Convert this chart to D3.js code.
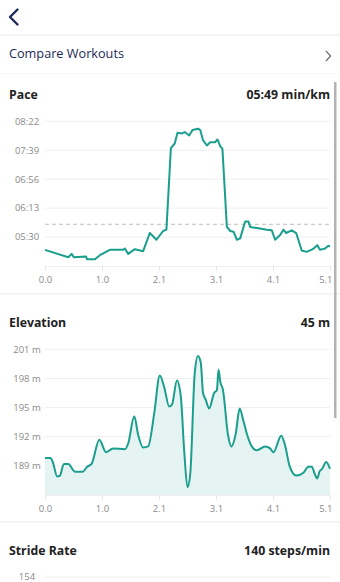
<!DOCTYPE html>
<html><head><meta charset="utf-8">
<script src="https://cdn.jsdelivr.net/npm/d3@7"></script>
<style>
html,body{margin:0;padding:0;background:#fff;}
svg{display:block;font-family:"Open Sans",sans-serif;}
</style></head>
<body>
<svg id="c" width="340" height="582"></svg>
<script>
// ---- data ----
const totalKm = 5.14;
const xTickLabels = ["0.0","1.0","2.1","3.1","4.1","5.1"];
const paceKm  = [0,0.42,0.48,0.52,0.74,0.76,0.90,0.99,1.10,1.17,1.41,1.44,1.50,1.62,1.77,1.89,2.01,2.13,2.19,2.27,2.34,2.39,2.47,2.52,2.60,2.66,2.76,2.80,2.85,2.92,2.98,3.07,3.11,3.16,3.20,3.28,3.34,3.40,3.46,3.52,3.61,3.67,3.70,3.85,4.00,4.09,4.15,4.24,4.30,4.35,4.45,4.53,4.63,4.72,4.83,4.91,4.96,5.05,5.11,5.14];
const paceSec = [311,300,305,300,301,297,297,303,308,311,311,313,305,312,309,336,326,339,341,462,469,485,484,486,481,489,491,489,474,466,471,471,475,465,461,345,339,338,326,328,353,353,345,343,341,340,326,333,341,336,340,336,310,308,312,318,311,313,317,316];
const paceTicks = [330,373,416,459,502];
const paceAvg = 349; // 05:49
const elevKm = [0,0.10,0.14,0.22,0.27,0.34,0.42,0.54,0.68,0.76,0.84,0.98,1.10,1.23,1.44,1.50,1.61,1.68,1.77,1.86,1.97,2.07,2.15,2.24,2.29,2.38,2.45,2.51,2.57,2.62,2.70,2.76,2.81,2.85,2.90,2.96,3.05,3.10,3.13,3.16,3.21,3.30,3.36,3.44,3.51,3.58,3.64,3.72,3.82,3.97,4.06,4.12,4.26,4.33,4.41,4.53,4.66,4.75,4.81,4.87,4.91,4.95,5.00,5.07,5.14];
const elevM = [189.8,189.8,189.4,187.9,188.0,189.2,189.2,188.4,188.4,188.9,189.2,191.7,190.4,190.8,190.7,191.3,194.1,192.2,190.9,191.0,194.4,198.3,197.1,195.1,195.3,197.8,196.1,190.6,186.8,188.2,198.5,200.3,199.6,196.5,195.8,194.9,196.5,196.8,198.9,197.7,196.8,192.2,191.0,192.3,194.9,193.6,192.3,191.1,190.6,191.0,190.8,190.4,192.1,191.1,189.0,188.0,188.3,188.9,188.9,188.1,187.7,188.4,188.7,189.4,188.7];
const elevTicks = [189,192,195,198,201];
const strideTicks = [154];
const titles = [
  {name:"Pace", value:"05:49 min/km"},
  {name:"Elevation", value:"45 m"},
  {name:"Stride Rate", value:"140 steps/min"}
];

// ---- drawing ----
const svg = d3.select("#c");
const teal = "#1a9e8d";
const grid = "#efefef";
const tickCol = "#8a8a8a";
const fmtPace = s => { const m=Math.floor(s/60), ss=Math.round(s%60); return String(m).padStart(2,"0")+":"+String(ss).padStart(2,"0"); };

// header
svg.append("path").attr("d","M17.5,9.5 L10,17 L17.5,24.5").attr("fill","none").attr("stroke","#1d2a57").attr("stroke-width",2.4).attr("stroke-linecap","round").attr("stroke-linejoin","round");
svg.append("rect").attr("x",0).attr("y",34).attr("width",340).attr("height",2).attr("fill","#f4f4f4");
svg.append("text").attr("x",9).attr("y",58).attr("font-size",12.7).attr("fill","#1d2a57").text("Compare Workouts");
svg.append("path").attr("d","M326,51 L330.5,56 L326,61").attr("fill","none").attr("stroke","#777").attr("stroke-width",1.4);
svg.append("rect").attr("x",0).attr("y",73).attr("width",340).attr("height",1).attr("fill","#f8f8f8");

const x = d3.scaleLinear().domain([0,totalKm]).range([45,330]);
const xTickVals = xTickLabels.map((d,i)=>i*totalKm/5);

function titleRow(t, y){
  svg.append("text").attr("x",9).attr("y",y).attr("font-size",12.3).attr("font-weight",700).attr("fill","#222").text(t.name);
  svg.append("text").attr("x",330).attr("y",y).attr("text-anchor","end").attr("font-size",12.3).attr("font-weight",700).attr("fill","#222").text(t.value);
}
function yGrid(y, ticks, fmt){
  const g = svg.append("g");
  ticks.forEach(v=>{
    g.append("line").attr("x1",45).attr("x2",330).attr("y1",y(v)).attr("y2",y(v)).attr("stroke",grid).attr("stroke-width",1);
    g.append("text").attr("x",27).attr("y",y(v)).attr("dy","0.35em").attr("text-anchor","middle").attr("font-size",9.5).attr("fill",tickCol).text(fmt(v));
  });
}
function xAxis(yBase){
  const ax = d3.axisBottom(x).tickValues(xTickVals).tickFormat((d,i)=>xTickLabels[i]).tickSize(5).tickPadding(5);
  const g = svg.append("g").attr("transform",`translate(0,${yBase})`).call(ax);
  g.select(".domain").attr("stroke",grid).attr("stroke-width",1).attr("d",`M45,0.5H330`);
  g.selectAll(".tick line").attr("stroke","#e6e6e6");
  g.selectAll(".tick text").attr("fill",tickCol).attr("font-size",9.5).attr("font-family","Open Sans, sans-serif");
  g.selectAll(".tick text").filter((d,i)=>i===xTickVals.length-1).attr("text-anchor","end").attr("dx","2");
}

// Pace
titleRow(titles[0], 99);
const yP = d3.scaleLinear().domain([287,502]).range([266,121.3]);
yGrid(yP, paceTicks, fmtPace);
svg.append("line").attr("x1",45).attr("x2",330).attr("y1",yP(paceAvg)).attr("y2",yP(paceAvg)).attr("stroke","#bdbdbd").attr("stroke-dasharray","4,3");
xAxis(yP(287));
const paceData = paceKm.map((k,i)=>[k,paceSec[i]]);
svg.append("path").datum(paceData).attr("fill","none").attr("stroke",teal).attr("stroke-width",2).attr("stroke-linejoin","round")
  .attr("d", d3.line().x(d=>x(d[0])).y(d=>yP(d[1])));

svg.append("rect").attr("x",0).attr("y",293).attr("width",340).attr("height",1.5).attr("fill","#f2f2f2");

// Elevation
titleRow(titles[1], 327);
const yE = d3.scaleLinear().domain([186,201]).range([495,349.3]);
yGrid(yE, elevTicks, v=>v+" m");
const elevData = elevKm.map((k,i)=>[k,elevM[i]]);
svg.append("path").datum(elevData).attr("fill","#e5f4f2")
  .attr("d", d3.area().x(d=>x(d[0])).y0(yE(186)).y1(d=>yE(d[1])).curve(d3.curveMonotoneX));
xAxis(yE(186));
svg.append("path").datum(elevData).attr("fill","none").attr("stroke",teal).attr("stroke-width",2)
  .attr("d", d3.line().x(d=>x(d[0])).y(d=>yE(d[1])).curve(d3.curveMonotoneX));

svg.append("rect").attr("x",0).attr("y",521).attr("width",340).attr("height",1.5).attr("fill","#f2f2f2");

// Stride rate
titleRow(titles[2], 554.5);
const yS = d3.scaleLinear().domain([130,154]).range([650,577]);
yGrid(yS, strideTicks, v=>String(v));

// scrollbar
svg.append("rect").attr("x",334).attr("y",82).attr("width",2.5).attr("height",336).attr("fill","#b3b3b3");
</script>
</body></html>
